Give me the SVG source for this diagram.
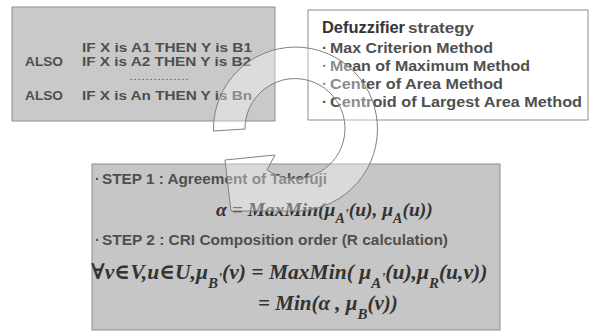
<svg xmlns="http://www.w3.org/2000/svg" width="592" height="332" viewBox="0 0 592 332">
<style>
.box{stroke:#8c8c8c;stroke-width:1}
.g{fill:#c9c9c9}
.s{font-family:"Liberation Sans",Arial,sans-serif;font-weight:bold;fill:#4f4f4f}
.d{fill:#333}
.f{font-family:"Liberation Serif","DejaVu Serif",serif;font-weight:bold;font-style:italic;fill:#333}
.arrow{fill:#fff;fill-opacity:0.35;stroke:#808080;stroke-width:1}
</style>
<rect width="592" height="332" fill="#fff"/>
<g id="rules">
<rect class="box g" x="12" y="7" width="263" height="114"/>
<text class="s" x="82" y="52" font-size="13.5" textLength="170" lengthAdjust="spacingAndGlyphs">IF X is A1  THEN Y is B1</text>
<text class="s" x="25" y="66" font-size="13.5" textLength="38" lengthAdjust="spacingAndGlyphs">ALSO</text>
<text class="s" x="82" y="66" font-size="13.5" textLength="169" lengthAdjust="spacingAndGlyphs">IF X is A2 THEN Y is B2</text>
<text class="s" x="130" y="80" font-size="8" fill="#777" textLength="58">...............</text>
<text class="s" x="25" y="100" font-size="13.5" textLength="38" lengthAdjust="spacingAndGlyphs">ALSO</text>
<text class="s" x="82" y="100" font-size="13.5" textLength="170" lengthAdjust="spacingAndGlyphs">IF X is An THEN Y is Bn</text>
</g>
<g id="defuzzifier">
<rect class="box" x="308" y="10" width="280" height="110" fill="#fff"/>
<text class="s d" x="322" y="33" font-size="16.5" textLength="83" lengthAdjust="spacingAndGlyphs">Defuzzifier</text>
<text class="s" x="408" y="33" font-size="14" textLength="66" lengthAdjust="spacingAndGlyphs" fill="#444">strategy</text>
<text class="s" x="322" y="53" font-size="15">·</text>
<text class="s" x="330" y="53" font-size="15" textLength="163" lengthAdjust="spacingAndGlyphs">Max Criterion Method</text>
<text class="s" x="322" y="71" font-size="15">·</text>
<text class="s" x="330" y="71" font-size="15" textLength="200" lengthAdjust="spacingAndGlyphs">Mean of Maximum Method</text>
<text class="s" x="322" y="89" font-size="15">·</text>
<text class="s" x="330" y="89" font-size="15" textLength="173" lengthAdjust="spacingAndGlyphs">Center of Area Method</text>
<text class="s" x="322" y="107" font-size="15">·</text>
<text class="s" x="330" y="107" font-size="15" textLength="252" lengthAdjust="spacingAndGlyphs">Centroid of Largest Area Method</text>
</g>
<g id="steps">
<rect class="box" x="92" y="164" width="408" height="166" fill="#c6c6c6"/>
<text class="s" x="95" y="184" font-size="14" fill="#444">·</text>
<text class="s" x="102" y="184" font-size="14" fill="#444" textLength="225" lengthAdjust="spacingAndGlyphs">STEP 1 : Agreement of Takefuji</text>
<text class="f" x="216" y="216" font-size="19.5">α = MaxMin(μ<tspan font-size="14" dy="7">A</tspan><tspan font-size="14" dy="-4">'</tspan><tspan dy="-3">(u), μ</tspan><tspan font-size="14" dy="7">A</tspan><tspan dy="-7">(u))</tspan></text>
<text class="s" x="95" y="245" font-size="14" fill="#444">·</text>
<text class="s" x="102" y="245" font-size="14" fill="#444" textLength="346" lengthAdjust="spacingAndGlyphs">STEP 2 : CRI Composition order (R calculation)</text>
<text class="f" x="91" y="279" font-size="21.5">∀v∈V,u∈U,μ<tspan font-size="15" dy="9">B</tspan><tspan font-size="15" dy="-5">'</tspan><tspan dy="-4">(v) = MaxMin( μ</tspan><tspan font-size="15" dy="9">A</tspan><tspan font-size="15" dy="-5">'</tspan><tspan dy="-4">(u),μ</tspan><tspan font-size="15" dy="9">R</tspan><tspan dy="-9">(u,v))</tspan></text>
<text class="f" x="258" y="310" font-size="21">= Min(α , μ<tspan font-size="15" dy="9">B</tspan><tspan dy="-9">(v))</tspan></text>
</g>
<g id="connectors">
<path class="arrow" d="M213.5,131 A82,82 0 1 1 292,211 L231,211 L225,160 L275,155 L267,170 A50,50 0 1 0 245,129 Z"/>
</g>
</svg>
